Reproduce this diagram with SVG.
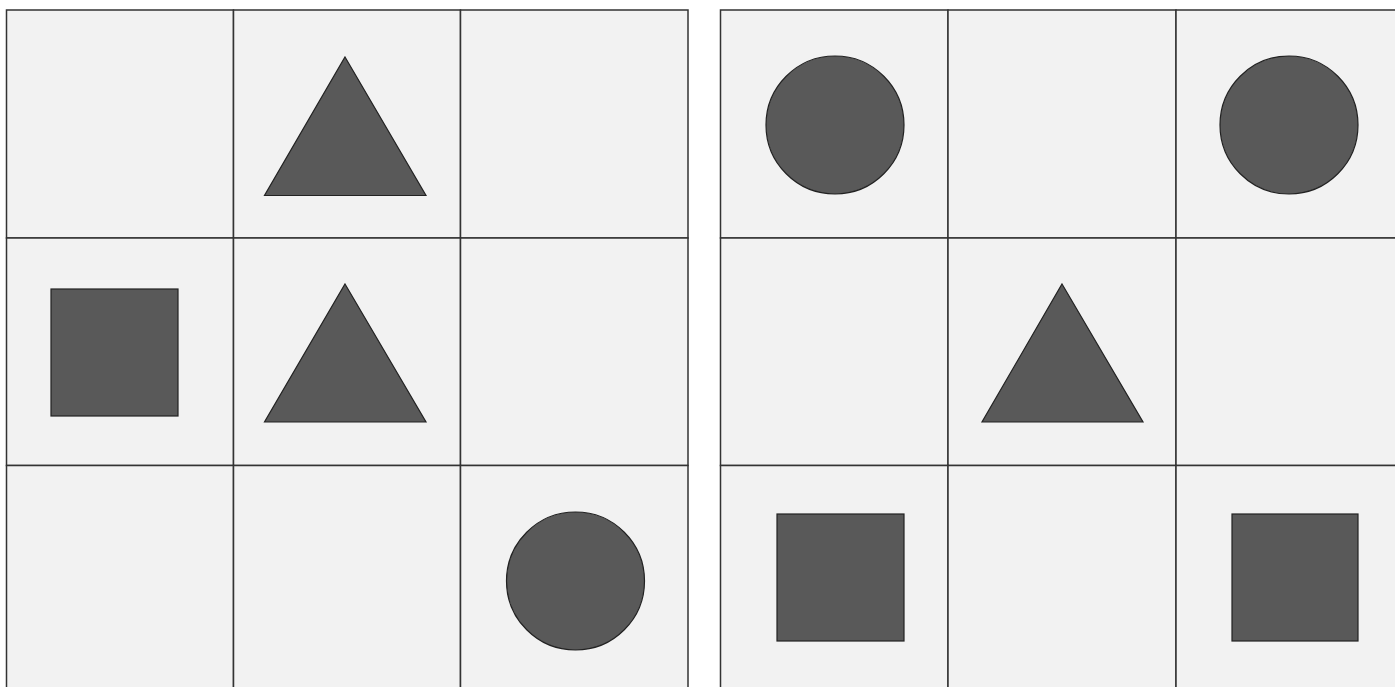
<svg xmlns="http://www.w3.org/2000/svg" width="1395" height="687" viewBox="0 0 1395 687">
<style>
.cell{fill:#f2f2f2;stroke:#333;stroke-width:1.5}
.shape{fill:#595959;stroke:#222;stroke-width:1.2}
</style>
<rect width="1395" height="687" fill="#fff"/>
<g id="left-grid">
<rect class="cell" x="6.5" y="10" width="227" height="228"/>
<rect class="cell" x="233.5" y="10" width="227" height="228"/>
<rect class="cell" x="460.5" y="10" width="227.5" height="228"/>
<rect class="cell" x="6.5" y="238" width="227" height="227.5"/>
<rect class="cell" x="233.5" y="238" width="227" height="227.5"/>
<rect class="cell" x="460.5" y="238" width="227.5" height="227.5"/>
<rect class="cell" x="6.5" y="465.5" width="227" height="228"/>
<rect class="cell" x="233.5" y="465.5" width="227" height="228"/>
<rect class="cell" x="460.5" y="465.5" width="227.5" height="228"/>
</g>
<g id="right-grid">
<rect class="cell" x="720.5" y="10" width="227.5" height="228"/>
<rect class="cell" x="948" y="10" width="228" height="228"/>
<rect class="cell" x="1176" y="10" width="228" height="228"/>
<rect class="cell" x="720.5" y="238" width="227.5" height="227.5"/>
<rect class="cell" x="948" y="238" width="228" height="227.5"/>
<rect class="cell" x="1176" y="238" width="228" height="227.5"/>
<rect class="cell" x="720.5" y="465.5" width="227.5" height="228"/>
<rect class="cell" x="948" y="465.5" width="228" height="228"/>
<rect class="cell" x="1176" y="465.5" width="228" height="228"/>
</g>
<g id="left-shapes">
<polygon id="tri-l1" class="shape" points="345,57 426,195.5 264.5,195.5"/>
<rect id="sq-l1" class="shape" x="51" y="289" width="127" height="127"/>
<polygon id="tri-l2" class="shape" points="345,284 426,422 264.5,422"/>
<circle id="circ-l1" class="shape" cx="575.5" cy="581" r="69"/>
</g>
<g id="right-shapes">
<circle id="circ-r1" class="shape" cx="835" cy="125" r="69"/>
<circle id="circ-r2" class="shape" cx="1289" cy="125" r="69"/>
<polygon id="tri-r1" class="shape" points="1062,284 1143,422 982,422"/>
<rect id="sq-r1" class="shape" x="777" y="514" width="127" height="127"/>
<rect id="sq-r2" class="shape" x="1232" y="514" width="126" height="127"/>
</g>
</svg>
